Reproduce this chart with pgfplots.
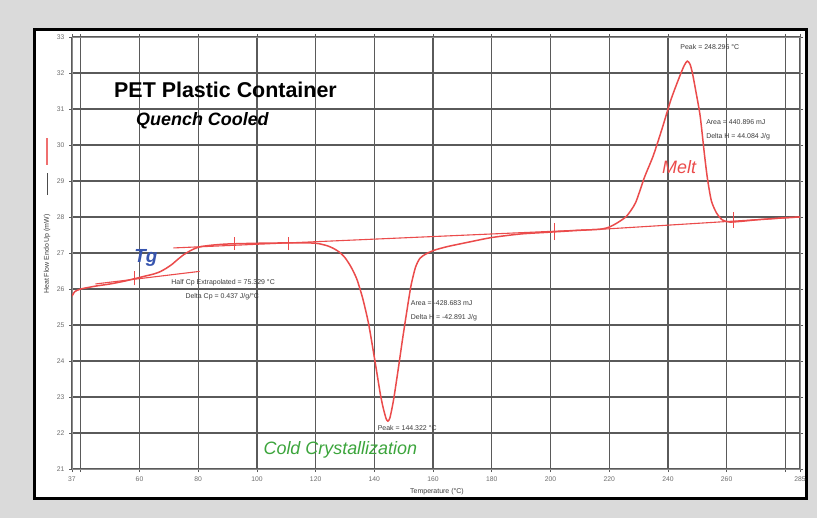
\documentclass[border=0pt]{standalone}
\usepackage{fontspec}
\setmainfont{Liberation Sans}
\usepackage{pgfplots}
\pgfplotsset{compat=1.18}
\definecolor{bggray}{RGB}{218,218,218}
\definecolor{gridc}{RGB}{90,90,90}
\definecolor{tickc}{RGB}{110,110,110}
\definecolor{curvered}{RGB}{235,75,75}
\definecolor{tgblue}{RGB}{55,85,175}
\definecolor{ccgreen}{RGB}{60,165,60}
\definecolor{annot}{RGB}{60,60,60}
\begin{document}
\begin{tikzpicture}
\fill[bggray] (-72bp,-49bp) rectangle (745bp,469bp);
\filldraw[fill=white, draw=black, line width=3bp] (-37bp,-29bp) rectangle (734bp,439bp);
\begin{axis}[
  at={(0,0)}, anchor=south west,
  scale only axis, width=728bp, height=432bp,
  xmin=37, xmax=285, ymin=21, ymax=33,
  xtick={37,40,60,80,100,120,140,160,180,200,220,240,260,280,285},
  xticklabels={37,,60,80,100,120,140,160,180,200,220,240,260,,285},
  ytick={21,22,...,33},
  grid=major,
  major grid style={draw=gridc, line width=1.2bp},
  axis line style={draw=gridc!70, line width=0.8bp},
  tick style={draw=gridc, line width=0.8bp},
  tick align=outside, major tick length=3bp,
  ticklabel style={font=\fontsize{6.8}{7}\selectfont, text=tickc},
  /pgf/number format/assume math mode=true,
  xticklabel style={yshift=-1bp},
  yticklabel style={xshift=-1bp},
]
% main DSC curve
\addplot[curvered, line width=1.5bp, smooth, tension=0.4] coordinates {
(37,25.8) (38,25.93) (40,26.0) (45,26.08) (50,26.14) (55,26.22) (58,26.28)
(62,26.36) (65,26.42) (67,26.48) (69,26.57) (71,26.68) (73,26.82) (75,26.95)
(77,27.05) (79,27.13) (81,27.18) (85,27.22) (90,27.25) (100,27.27) (110,27.28)
(118,27.28) (121,27.26) (124,27.2) (126,27.13) (128,27.03) (130,26.87) (132,26.62)
(134,26.28) (136,25.75) (138,25.05) (140,24.1) (142,23.1) (143,22.7) (144,22.4)
(144.6,22.33) (145.3,22.42) (146.5,22.9) (148,23.7) (149.5,24.55) (151,25.35)
(152.5,26.1) (154,26.6) (155.5,26.85) (157.5,26.97) (160.5,27.08) (165,27.18)
(172,27.3) (180,27.43) (190,27.53) (200,27.58) (210,27.63) (217,27.66) (220,27.72)
(223,27.85) (226,28.03) (229,28.4) (232,29.1) (235,29.7) (238,30.45) (241,31.25)
(243.5,31.8) (245.5,32.2) (246.6,32.33) (247.5,32.25) (248.3,32.02) (249.5,31.5)
(251,30.8) (252.5,29.7) (253.5,29.05) (254.8,28.45) (256.5,28.12) (258.5,27.92)
(261,27.86) (265,27.88) (270,27.92) (275,27.95) (280,27.98) (285,28.0)
};
% baselines / tangents
\addplot[curvered, line width=1.1bp] coordinates {(45,26.14) (80.5,26.49)};
\addplot[curvered, line width=1.1bp] coordinates {(71.5,27.14) (219.5,27.67)};
\addplot[curvered, line width=1.1bp] coordinates {(219.5,27.67) (285,28.0)};
% limit markers
\addplot[curvered, line width=0.9bp] coordinates {(58.2,26.1) (58.2,26.5)};
\addplot[curvered, line width=0.9bp] coordinates {(92.2,27.08) (92.2,27.44)};
\addplot[curvered, line width=0.9bp] coordinates {(110.7,27.08) (110.7,27.44)};
\addplot[curvered, line width=0.9bp] coordinates {(201.4,27.36) (201.4,27.83)};
\addplot[curvered, line width=0.9bp] coordinates {(262.2,27.7) (262.2,28.14)};
% titles and labels
\node[anchor=west, font=\fontsize{21.5}{24}\selectfont\bfseries, inner sep=0pt] at (axis cs:51.3,31.53) {PET Plastic Container};
\node[anchor=west, font=\fontsize{18}{20}\selectfont\bfseries\itshape, inner sep=0pt] at (axis cs:58.8,30.67) {Quench Cooled};
\node[anchor=west, font=\fontsize{19}{21}\selectfont\bfseries\itshape, text=tgblue, inner sep=0pt] at (axis cs:58.2,26.86) {Tg};
\node[anchor=west, font=\fontsize{18}{20}\selectfont\itshape, text=curvered, inner sep=0pt] at (axis cs:238.0,29.39) {Melt};
\node[anchor=west, font=\fontsize{18}{20}\selectfont\itshape, text=ccgreen, inner sep=0pt] at (axis cs:102.2,21.53) {Cold Crystallization};
% annotations
\begin{scope}[every node/.style={anchor=west, font=\fontsize{7}{8}\selectfont, text=annot, inner sep=0pt}]
\node at (axis cs:70.8,26.17) {Half Cp Extrapolated = 75.329 °C};
\node at (axis cs:75.6,25.78) {Delta Cp = 0.437 J/g/°C};
\node at (axis cs:152.4,25.61) {Area = -428.683 mJ};
\node at (axis cs:152.4,25.19) {Delta H = -42.891 J/g};
\node at (axis cs:141.1,22.14) {Peak = 144.322 °C};
\node at (axis cs:244.2,32.72) {Peak = 248.296 °C};
\node at (axis cs:253.0,30.64) {Area = 440.896 mJ};
\node at (axis cs:253.0,30.22) {Delta H = 44.084 J/g};
\end{scope}
\end{axis}
% y axis label with legend strokes
\node[rotate=90, font=\fontsize{7}{8}\selectfont, text=annot, inner sep=0pt] at (-25bp,215bp) {Heat Flow Endo Up (mW)};
\draw[black!70, line width=0.8bp] (-25bp,274bp) -- (-25bp,296bp);
\draw[curvered!80, line width=2bp] (-25bp,304bp) -- (-25bp,331bp);
\node[font=\fontsize{7}{8}\selectfont, text=annot, inner sep=0pt] at (365bp,-23bp) {Temperature (°C)};
\pgfresetboundingbox
\useasboundingbox (-72bp,-49bp) rectangle (745bp,469bp);
\end{tikzpicture}
\end{document}
